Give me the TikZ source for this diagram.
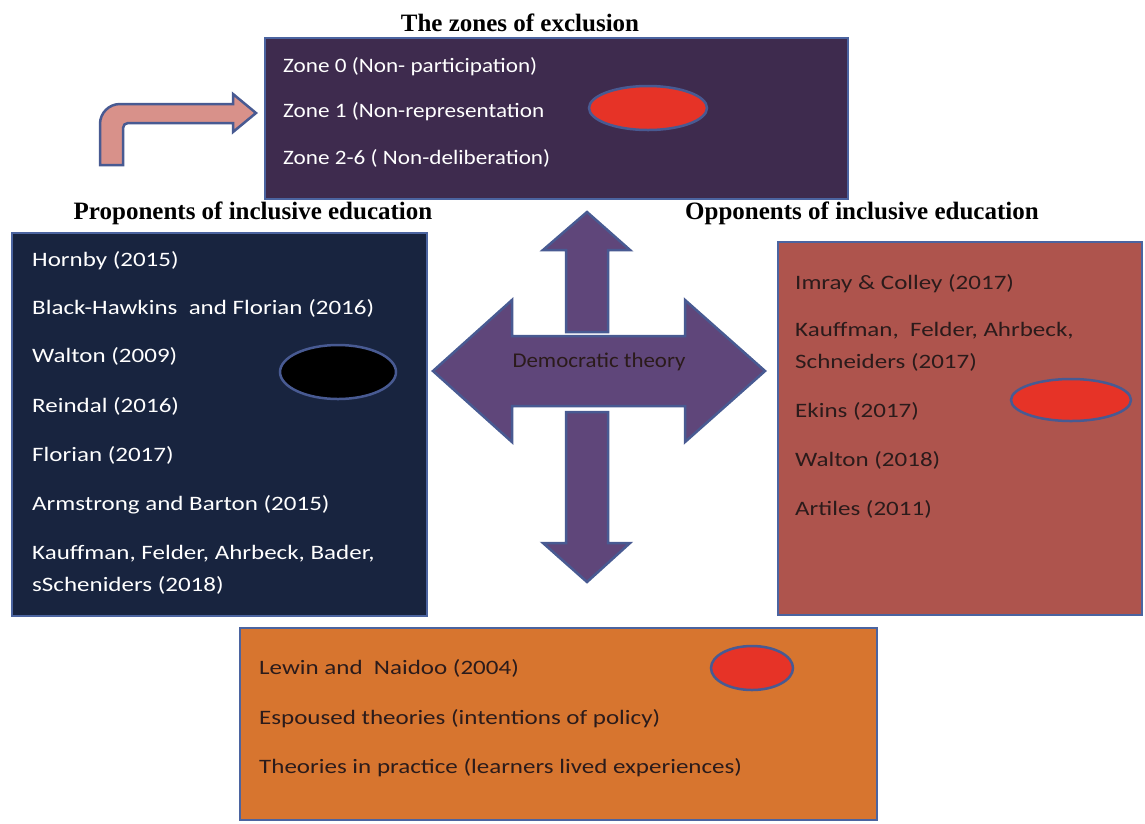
\documentclass[tikz,border=0pt]{standalone}
\usepackage{fontspec}
\usepackage{tikz}
\usepackage{xcolor}
\usetikzlibrary{shapes.geometric, arrows}
\setmainfont{Liberation Serif}
\newfontfamily\bodyfont[FakeStretch=1.22]{Carlito}
\newfontfamily\zonefont[FakeStretch=1.13]{Carlito}
\newfontfamily\democfont[FakeStretch=1.09]{Carlito}
\definecolor{edgeblue}{HTML}{4B64A0}
\definecolor{zonefill}{HTML}{3E2B4E}
\definecolor{profill}{HTML}{18243F}
\definecolor{confill}{HTML}{AE544D}
\definecolor{practfill}{HTML}{D7752F}
\definecolor{crossfill}{HTML}{5F467A}
\definecolor{crossedge}{HTML}{485A92}
\definecolor{bentfill}{HTML}{D8918A}
\definecolor{spotred}{HTML}{E63327}
\definecolor{darktext}{HTML}{2B1B1B}
\tikzstyle{panel} = [rectangle, draw=edgeblue, line width=2.5pt, inner sep=0pt]
\tikzstyle{heading} = [font=\fontsize{25}{29}\selectfont\bfseries, text=black, anchor=base]
\tikzstyle{zoneline} = [font=\zonefont\fontsize{20.5}{24}\selectfont, text=white, anchor=base west, inner sep=0pt]
\tikzstyle{light} = [font=\bodyfont\fontsize{20.5}{24}\selectfont, text=white, anchor=base west, inner sep=0pt]
\tikzstyle{dark} = [font=\bodyfont\fontsize{20.5}{24}\selectfont, text=darktext, anchor=base west, inner sep=0pt]
\tikzstyle{spot} = [ellipse, draw=crossedge, line width=2.5pt, fill=spotred]
\tikzstyle{blockarrow} = [fill=crossfill, draw=crossedge, line width=2.5pt, line join=miter]

\begin{document}
\begin{tikzpicture}[x=1pt, y=-1pt]
		\useasboundingbox (0,0) rectangle (1145,823);
		\fill[white] (0,0) rectangle (1145,823);
		% panels
		\node (zones) [panel, fill=zonefill, minimum width=583pt, minimum height=161pt] at (556.5,118.5) {};
		\node (pro) [panel, fill=profill, minimum width=415pt, minimum height=383pt] at (219.5,424.5) {};
		\node (con) [panel, fill=confill, minimum width=364pt, minimum height=373pt] at (960,428.5) {};
		\node (pract) [panel, fill=practfill, minimum width=637pt, minimum height=192pt] at (558.5,724) {};
		
		\node (zonestitle) [heading] at (520,31) {The zones of exclusion};
		\node (protitle) [heading] at (253,219) {Proponents of inclusive education};
		\node (contitle) [heading] at (862,219) {Opponents of inclusive education};
		
		\node (zone0) [zoneline] at (283,72) {Zone 0 (Non- participation)};
		\node (zone1) [zoneline] at (283,117) {Zone 1 (Non-representation};
		\node (zone2) [zoneline] at (283,164) {Zone 2-6 ( Non-deliberation)};
		\node (zonespot) [spot, minimum width=118pt, minimum height=44pt] at (648,108) {};
		
		\node (hornby) [light] at (32,266) {Hornby (2015)};
		\node (black) [light] at (32,314) {Black-Hawkins\ \ and Florian (2016)};
		\node (walton) [light] at (32,362) {Walton (2009)};
		\node (reindal) [light] at (32,412) {Reindal (2016)};
		\node (florian) [light] at (32,461) {Florian (2017)};
		\node (armstrong) [light] at (32,510) {Armstrong and Barton (2015)};
		\node (kauff) [light] at (32,559) {Kauffman, Felder, Ahrbeck, Bader,};
		\node (kauffb) [light] at (32,591) {sScheniders (2018)};
		\node (prospot) [spot, fill=black, minimum width=116pt, minimum height=54pt] at (338,372) {};
		
		\node (imray) [dark] at (795,289) {Imray \& Colley (2017)};
		\node (kauffc) [dark] at (795,336) {Kauffman,\ \ Felder, Ahrbeck,};
		\node (kauffd) [dark] at (795,368) {Schneiders (2017)};
		\node (ekins) [dark] at (795,417) {Ekins (2017)};
		\node (waltonb) [dark] at (795,466) {Walton (2018)};
		\node (artiles) [dark] at (795,515) {Artiles (2011)};
		\node (conspot) [spot, minimum width=120pt, minimum height=42pt] at (1071,400) {};
		
		\node (lewin) [dark] at (259,674) {Lewin and\ \ Naidoo (2004)};
		\node (espoused) [dark] at (259,724) {Espoused theories (intentions of policy)};
		\node (practice) [dark] at (259,773) {Theories in practice (learners lived experiences)};
		\node (practspot) [spot, minimum width=82pt, minimum height=44pt] at (752,668) {};
		
		% cross of arrows
		\draw [blockarrow] (566,332) -- (566,250) -- (543,250) -- (587,212) -- (630,250) -- (608,250) -- (608,332) -- cycle;
		\draw [blockarrow] (566,412) -- (566,543) -- (543,543) -- (587,582) -- (630,543) -- (608,543) -- (608,412) -- cycle;
		\draw [blockarrow] (433,371) -- (512,300) -- (512,336) -- (685,336) -- (685,300) -- (765,371) -- (685,442) -- (685,406) -- (512,406) -- (512,442) -- cycle;
		\node (democ) [font=\democfont\fontsize{21}{24}\selectfont, text=darktext, anchor=base] at (599,367) {Democratic theory};
		
		% bent arrow
		\draw [fill=bentfill, draw=crossedge, line width=2.5pt] (100,165) -- (100,130) [rounded corners=20pt] -- (100,104) -- (150,104) [sharp corners] -- (233,104) -- (233,94) -- (256,113) -- (233,132) -- (233,123) [rounded corners=5pt] -- (123,123) -- (123,140) [sharp corners] -- (123,165) -- cycle;
	\end{tikzpicture}
\end{document}
